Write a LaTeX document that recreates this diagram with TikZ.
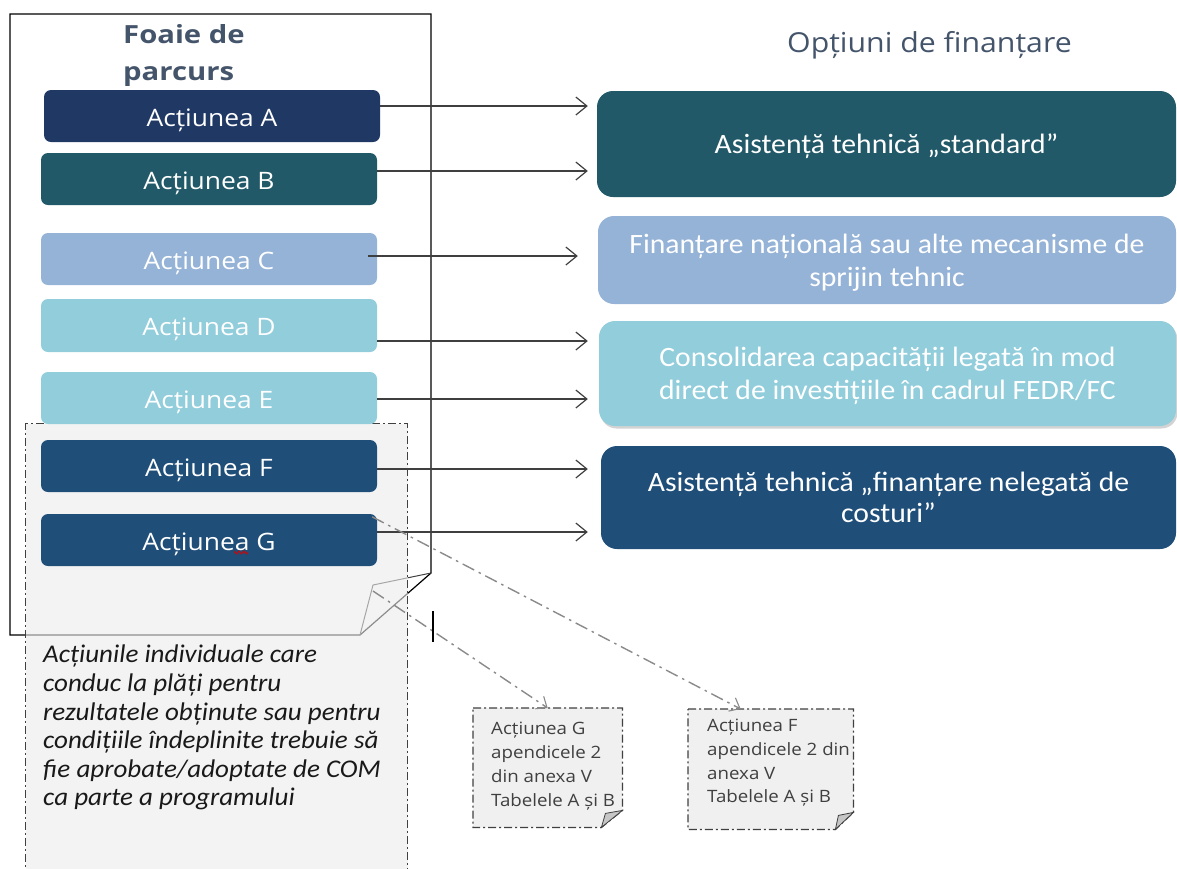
\documentclass[tikz,border=0pt]{standalone}
\usepackage{fontspec}
\setmainfont{Carlito}
\newfontfamily\segoe[FakeStretch=1.1]{Open Sans}
\newfontfamily\headfont[FakeStretch=1.17]{Open Sans}
\newfontfamily\calfont[FakeStretch=1.06]{Carlito}
\usetikzlibrary{arrows.meta,shadows}

\definecolor{headgray}{HTML}{44546A}
\definecolor{navyA}{HTML}{203864}
\definecolor{tealB}{HTML}{215968}
\definecolor{blueC}{HTML}{95B3D7}
\definecolor{aquaD}{HTML}{92CDDC}
\definecolor{blueF}{HTML}{1F4E79}
\definecolor{arrowgray}{HTML}{3F3F3F}
\definecolor{linkgray}{HTML}{8A8A8A}
\definecolor{notefill}{HTML}{F0F0F0}
\definecolor{memofill}{HTML}{EBEBEB}
\definecolor{notetext}{HTML}{404040}

\tikzset{
  act/.style={rectangle, rounded corners=7pt, minimum width=336pt,
    minimum height=52pt, inner sep=0pt, text=white,
    text height=20pt, text depth=0pt,
    font=\segoe\fontsize{24}{28}\selectfont},
  opt/.style={rectangle, rounded corners=16pt, inner sep=0pt, text=white,
    align=center, font=\calfont\fontsize{28}{33}\selectfont},
  conn/.style={draw=arrowgray, line width=1.3pt,
    -{Straight Barb[length=11pt,width=18pt,line width=1.2pt]}},
  link/.style={draw=linkgray, line width=1.4pt,
    dash pattern=on 13pt off 5pt on 2.5pt off 5pt,
    -{Straight Barb[length=9pt,width=15pt,line width=1.1pt]}},
  notebox/.style={draw=notetext, line width=1.3pt,
    dash pattern=on 8pt off 3pt on 2pt off 3pt, fill=notefill},
  notetxt/.style={anchor=north west, inner sep=0pt, align=left, text=notetext,
    font=\segoe\fontsize{17}{24}\selectfont},
  heading/.style={anchor=base west, inner sep=0pt, text=headgray}
}

\begin{document}
\begin{tikzpicture}[x=1pt,y=-1pt]
\useasboundingbox (0,0) rectangle (1177,868);

% roadmap sheet with a folded lower corner
\coordinate (fold) at (373,585);
\draw[black, line width=1.2pt] (10,14) -- (431,14) -- (431,573) -- (360,635)
  -- (10,635) -- cycle;
\draw[black!75, line width=1pt] (431,573) -- (fold) -- (360,635);

\node[heading, font=\headfont\bfseries\fontsize{25}{30}\selectfont] (h1) at (123,43) {Foaie de};
\node[heading, font=\headfont\bfseries\fontsize{25}{30}\selectfont] (h2) at (123,80) {parcurs};
\node[heading, font=\segoe\fontsize{27.5}{30}\selectfont] (h3) at (787,52) {Opțiuni de finanțare};

% memo laid over the lower part of the sheet
\node[draw=notetext, line width=1.3pt, dash pattern=on 8pt off 3pt on 2pt off 3pt,
  fill=memofill, fill opacity=0.6, anchor=north west, inner sep=0pt,
  minimum width=382pt, minimum height=470pt] (memo) at (25,423) {};
\node[anchor=north west, inner sep=0pt, align=left, text=black!90,
  font=\calfont\itshape\fontsize{25.5}{28.6}\selectfont] (memotext) at (43,645)
  {Acțiunile individuale care\\conduc la plăți pentru\\rezultatele obținute sau pentru\\condițiile îndeplinite trebuie să\\fie aprobate/adoptate de COM\\ca parte a programului};

% actions
\node[act, fill=navyA] (A) at (212,116) {Acțiunea A};
\node[act, fill=tealB] (B) at (209,179) {Acțiunea B};
\node[act, fill=blueC] (C) at (209,259) {Acțiunea C};
\node[act, fill=aquaD, minimum height=53pt] (D) at (209,325.5) {Acțiunea D};
\node[act, fill=aquaD] (E) at (209,398) {Acțiunea E};
\node[act, fill=blueF] (F) at (209,466) {Acțiunea F};
\node[act, fill=blueF] (G) at (209,540) {Acțiunea G};
\draw[red!85!black, line width=0.9pt] (234,551) -- (236.5,554) -- (239,551)
  -- (241.5,554) -- (244,551) -- (246.5,554) -- (248,552);

% funding options
\node[opt, fill=tealB, minimum width=579pt, minimum height=106pt,
  text height=19pt, text depth=0pt] (O1) at (886.5,144)
  {Asistență tehnică „standard”};
\node[opt, fill=blueC, minimum width=578pt, minimum height=88pt,
  text depth=0pt] (O2) at (887,260)
  {Finanțare națională sau alte mecanisme de\\sprijin tehnic};
\node[opt, fill=aquaD, minimum width=577pt, minimum height=105pt,
  text depth=0pt,
  drop shadow={shadow xshift=1.5pt, shadow yshift=-2.5pt, opacity=0.35}] (O3) at (887.5,373.5)
  {Consolidarea capacității legată în mod\\direct de investițiile în cadrul FEDR/FC};
\node[opt, fill=blueF, minimum width=575pt, minimum height=103pt,
  font=\calfont\fontsize{28}{31}\selectfont] (O4) at (888.5,497.5)
  {Asistență tehnică „finanțare nelegată de\\costuri”};

% action -> option connectors
\coordinate (a1) at ([yshift=10pt]A.east);
\coordinate (b1) at ([yshift=8pt]B.east);
\coordinate (c1) at ([xshift=-9pt,yshift=3pt]C.east);
\coordinate (d1) at ([yshift=-15.5pt]D.east);
\coordinate (e1) at ([yshift=-1pt]E.east);
\coordinate (f1) at ([yshift=-3pt]F.east);
\coordinate (g1) at ([yshift=8pt]G.east);
\draw[conn, shorten >=9pt] (a1) -- (a1 -| O1.west);
\draw[conn, shorten >=9pt] (b1) -- (b1 -| O1.west);
\draw[conn, shorten >=20pt] (c1) -- (c1 -| O2.west);
\draw[conn, shorten >=11pt] (d1) -- (d1 -| O3.west);
\draw[conn, shorten >=11pt] (e1) -- (e1 -| O3.west);
\draw[conn, shorten >=13pt] (f1) -- (f1 -| O4.west);
\draw[conn, shorten >=13pt] (g1) -- (g1 -| O4.west);

% small reference notes
\node[anchor=north west, inner sep=0pt, minimum width=149pt, minimum height=119pt] (NG) at (473,708) {};
\draw[notebox] (NG.north west) -- (NG.north east) -- ([yshift=17pt]NG.south east)
  -- ([xshift=-21pt]NG.south east) -- (NG.south west) -- cycle;
\draw[notetext, fill=gray!45, line width=0.8pt] ([yshift=17pt]NG.south east)
  -- ([xshift=-17pt,yshift=14pt]NG.south east) -- ([xshift=-21pt]NG.south east) -- cycle;
\node[notetxt] (NGt) at (491,722) {Acțiunea G\\apendicele 2\\din anexa V\\Tabelele A și B};

\node[anchor=north west, inner sep=0pt, minimum width=165pt, minimum height=120pt] (NF) at (688,709) {};
\draw[notebox] (NF.north west) -- (NF.north east) -- ([yshift=17pt]NF.south east)
  -- ([xshift=-18pt]NF.south east) -- (NF.south west) -- cycle;
\draw[notetext, fill=gray!45, line width=0.8pt] ([yshift=17pt]NF.south east)
  -- ([xshift=-15pt,yshift=14pt]NF.south east) -- ([xshift=-18pt]NF.south east) -- cycle;
\node[notetxt, font=\segoe\fontsize{17}{23.7}\selectfont] (NFt) at (707,719) {Acțiunea F\\apendicele 2 din\\anexa V\\Tabelele A și B};

% dash-dot references to the notes
\draw[link] ([xshift=-5pt,yshift=-3pt]G.north east) -- ([xshift=-30pt]NF.north);
\draw[link] ([yshift=-6pt]fold) -- (NG.north);

% text cursor mark
\draw[black, line width=1.2pt] (433,611) -- (433,642);
\end{tikzpicture}
\end{document}
